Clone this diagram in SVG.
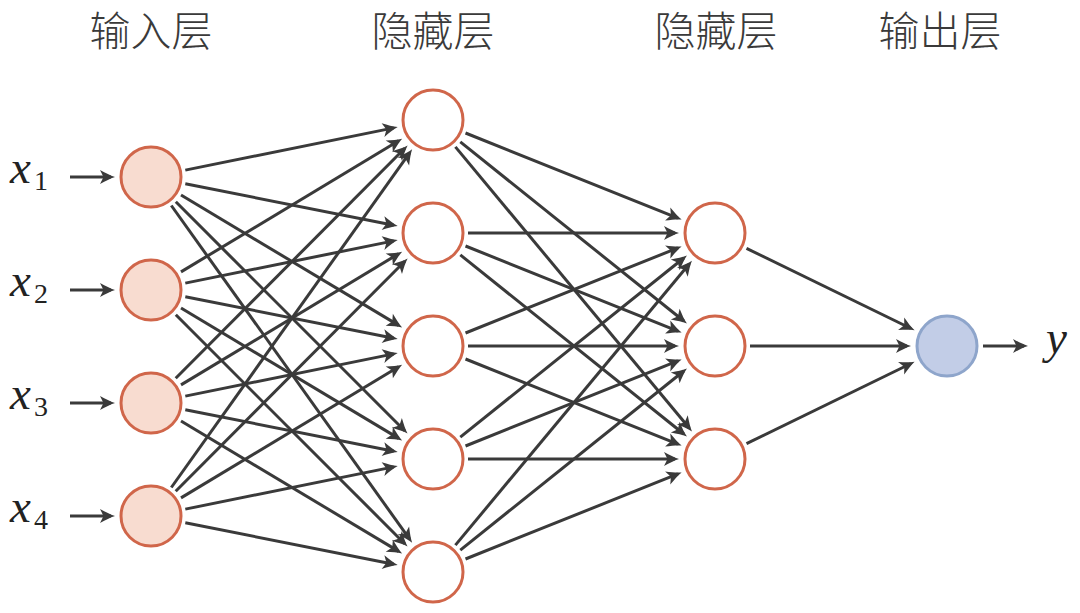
<svg xmlns="http://www.w3.org/2000/svg" width="1080" height="613" viewBox="0 0 1080 613">
<style>
.lbl{font-family:"Noto Sans CJK SC","Noto Sans CJK JP",sans-serif;font-size:41px;font-weight:300;fill:#3a3a3a;text-anchor:middle}
.mv{font-family:"Liberation Serif",serif;font-style:italic;font-size:47px;fill:#222}
.sub{font-family:"Liberation Serif",serif;font-size:28px;fill:#222}
.in{fill:#f8dcd0;stroke:#d0664a;stroke-width:3}
.hid{fill:#ffffff;stroke:#d0664a;stroke-width:3}
.out{fill:#c2cde7;stroke:#8ea5cb;stroke-width:3}
.edges line{stroke:#3a3a3a;stroke-width:3;marker-end:url(#ah)}
</style>
<defs>
<marker id="ah" markerUnits="userSpaceOnUse" markerWidth="20" markerHeight="16" viewBox="-14 -8 20 16" refX="0" refY="0" orient="auto">
<path d="M4,0 C-1,-1.6 -5,-3.8 -11,-7 L-7.5,0 L-11,7 C-5,3.8 -1,1.6 4,0 Z" fill="#3a3a3a"/>
</marker>
</defs>
<rect width="1080" height="613" fill="#ffffff"/>
<g id="titles">
<text class="lbl" x="151" y="46">输入层</text>
<text class="lbl" x="433" y="46">隐藏层</text>
<text class="lbl" x="716" y="46">隐藏层</text>
<text class="lbl" x="940" y="46">输出层</text>
</g>
<g id="labels">
<text x="10" y="183"><tspan class="mv">x</tspan><tspan class="sub" dx="3" dy="7">1</tspan></text>
<text x="10" y="296"><tspan class="mv">x</tspan><tspan class="sub" dx="3" dy="7">2</tspan></text>
<text x="10" y="409"><tspan class="mv">x</tspan><tspan class="sub" dx="3" dy="7">3</tspan></text>
<text x="10" y="522"><tspan class="mv">x</tspan><tspan class="sub" dx="3" dy="7">4</tspan></text>
<text class="mv" x="1046" y="353">y</text>
</g>
<g id="connectors" class="edges">
<line x1="70" y1="177" x2="111" y2="177"/>
<line x1="70" y1="290" x2="111" y2="290"/>
<line x1="70" y1="403" x2="111" y2="403"/>
<line x1="70" y1="516" x2="111" y2="516"/>
<line x1="185.3" y1="170.1" x2="393.8" y2="127.9"/>
<line x1="185.3" y1="183.8" x2="393.8" y2="225.2"/>
<line x1="181.0" y1="195.0" x2="398.7" y2="325.4"/>
<line x1="175.8" y1="201.8" x2="404.7" y2="430.7"/>
<line x1="171.3" y1="205.5" x2="409.8" y2="539.4"/>
<line x1="181.0" y1="271.9" x2="398.7" y2="140.7"/>
<line x1="185.3" y1="283.1" x2="393.8" y2="240.9"/>
<line x1="185.3" y1="296.8" x2="393.8" y2="338.2"/>
<line x1="181.0" y1="308.0" x2="398.7" y2="438.4"/>
<line x1="175.8" y1="314.8" x2="404.7" y2="543.7"/>
<line x1="175.7" y1="378.2" x2="404.8" y2="148.3"/>
<line x1="181.0" y1="384.9" x2="398.7" y2="253.7"/>
<line x1="185.3" y1="396.1" x2="393.8" y2="353.9"/>
<line x1="185.3" y1="409.8" x2="393.8" y2="451.2"/>
<line x1="181.0" y1="421.0" x2="398.7" y2="551.4"/>
<line x1="171.3" y1="487.5" x2="409.8" y2="152.6"/>
<line x1="175.7" y1="491.2" x2="404.8" y2="261.3"/>
<line x1="181.0" y1="497.9" x2="398.7" y2="366.7"/>
<line x1="185.3" y1="509.1" x2="393.8" y2="466.9"/>
<line x1="185.3" y1="522.8" x2="393.8" y2="564.2"/>
<line x1="465.5" y1="133.0" x2="677.9" y2="218.1"/>
<line x1="460.3" y1="141.9" x2="683.8" y2="321.0"/>
<line x1="455.4" y1="146.9" x2="689.4" y2="428.3"/>
<line x1="468" y1="233" x2="675" y2="233"/>
<line x1="465.5" y1="246.0" x2="677.9" y2="331.1"/>
<line x1="460.3" y1="254.9" x2="683.8" y2="434.0"/>
<line x1="465.5" y1="333.0" x2="677.9" y2="247.9"/>
<line x1="468" y1="346" x2="675" y2="346"/>
<line x1="465.5" y1="359.0" x2="677.9" y2="444.1"/>
<line x1="460.3" y1="437.1" x2="683.8" y2="258.0"/>
<line x1="465.5" y1="446.0" x2="677.9" y2="360.9"/>
<line x1="468" y1="459" x2="675" y2="459"/>
<line x1="455.4" y1="545.1" x2="689.4" y2="263.8"/>
<line x1="460.3" y1="550.1" x2="683.8" y2="371.0"/>
<line x1="465.5" y1="559.0" x2="677.9" y2="473.9"/>
<line x1="746.5" y1="248.3" x2="911.0" y2="328.5"/>
<line x1="750" y1="346" x2="907" y2="346"/>
<line x1="746.5" y1="443.7" x2="911.0" y2="363.5"/>
<line x1="983" y1="346" x2="1024" y2="346"/>
</g>
<g id="in1"><circle class="in" cx="151" cy="177" r="30"/></g>
<g id="in2"><circle class="in" cx="151" cy="290" r="30"/></g>
<g id="in3"><circle class="in" cx="151" cy="403" r="30"/></g>
<g id="in4"><circle class="in" cx="151" cy="516" r="30"/></g>
<g id="h1a"><circle class="hid" cx="433" cy="120" r="30"/></g>
<g id="h1b"><circle class="hid" cx="433" cy="233" r="30"/></g>
<g id="h1c"><circle class="hid" cx="433" cy="346" r="30"/></g>
<g id="h1d"><circle class="hid" cx="433" cy="459" r="30"/></g>
<g id="h1e"><circle class="hid" cx="433" cy="572" r="30"/></g>
<g id="h2a"><circle class="hid" cx="715" cy="233" r="30"/></g>
<g id="h2b"><circle class="hid" cx="715" cy="346" r="30"/></g>
<g id="h2c"><circle class="hid" cx="715" cy="459" r="30"/></g>
<g id="out"><circle class="out" cx="947" cy="346" r="30"/></g>
</svg>
